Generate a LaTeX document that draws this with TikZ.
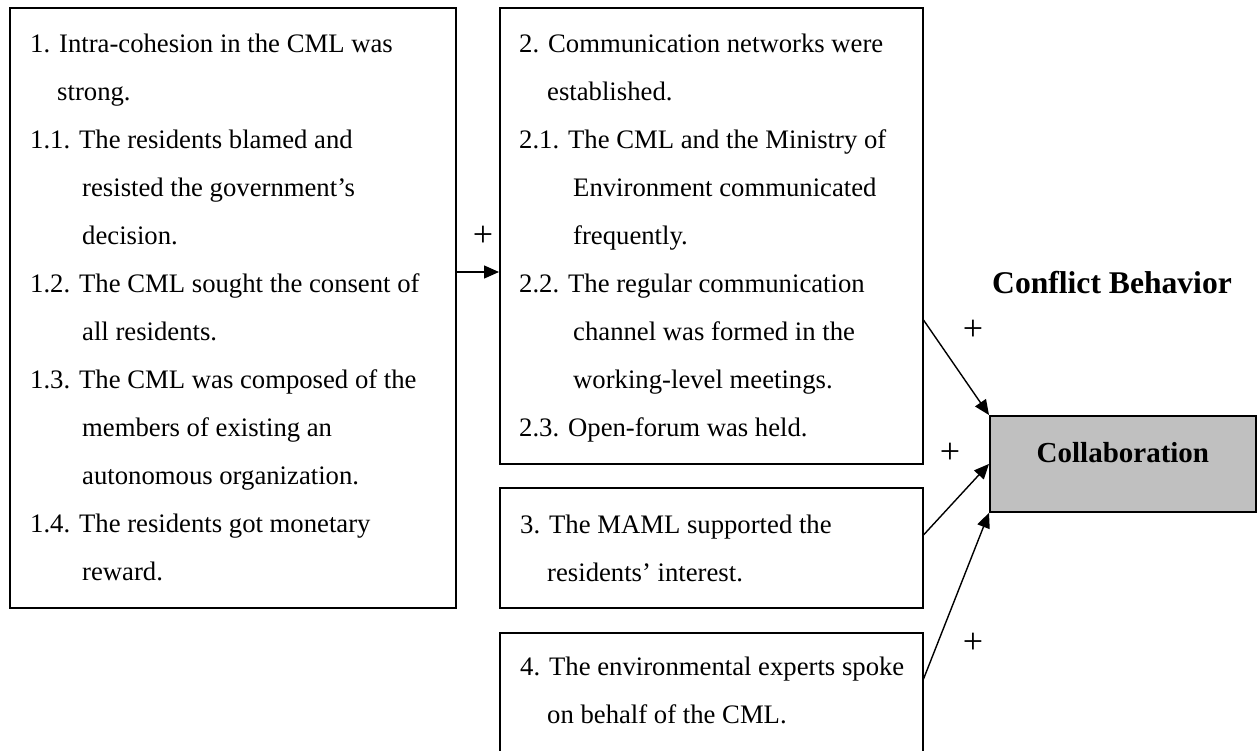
\documentclass[tikz,border=0pt]{standalone}
\usepackage{fontspec}
\setmainfont{Liberation Serif}
\usetikzlibrary{arrows.meta,calc}
\definecolor{collabgray}{HTML}{C0C0C0}
\begin{document}
\begin{tikzpicture}[x=1pt,y=-1pt,
  box/.style={draw, line width=1.5pt, rectangle, inner sep=0pt, anchor=north west},
  body/.style={font=\fontsize{26.7}{48}\selectfont, align=left, inner sep=0pt, anchor=north west},
  sign/.style={font=\fontsize{36}{40}\selectfont, inner sep=0pt},
  head/.style={font=\bfseries\fontsize{31.6}{36}\selectfont, inner sep=0pt, anchor=base},
  link/.style={line width=1.4pt, -{Triangle[length=15pt,width=13pt]}},
]
\clip (0,0) rectangle (1258,750);

% factor boxes
\node[box, minimum width=446pt, minimum height=600pt] (b1) at (9,7) {};
\node[box, minimum width=423pt, minimum height=456pt] (b2) at (499,7) {};
\node[box, minimum width=423pt, minimum height=120pt] (b3) at (499,487) {};
\node[box, minimum width=423pt, minimum height=170pt] (b4) at (499,632) {};

% outcome box
\node[box, fill=collabgray, line width=1.8pt, minimum width=266pt, minimum height=96pt] (col) at (989,415) {};
\node[head, font=\bfseries\fontsize{29}{34}\selectfont] (coltext) at ($(col.center)+(0,-1)$) {Collaboration};
\node[head] (cb) at (1112,293) {Conflict Behavior};

% box texts
\node[body] (t1) at ($(b1.north west)+(21,15)$) {\rule{0pt}{30pt}1. Intra-cohesion in the CML was\\
\hspace*{27pt}strong.\\
1.1. The residents blamed and\\
\hspace*{52pt}resisted the government’s\\
\hspace*{52pt}decision.\\
1.2. The CML sought the consent of\\
\hspace*{52pt}all residents.\\
1.3. The CML was composed of the\\
\hspace*{52pt}members of existing an\\
\hspace*{52pt}autonomous organization.\\
1.4. The residents got monetary\\
\hspace*{52pt}reward.};

\node[body] (t2) at ($(b2.north west)+(20,15)$) {\rule{0pt}{30pt}2. Communication networks were\\
\hspace*{28pt}established.\\
2.1. The CML and the Ministry of\\
\hspace*{54pt}Environment communicated\\
\hspace*{54pt}frequently.\\
2.2. The regular communication\\
\hspace*{54pt}channel was formed in the\\
\hspace*{54pt}working-level meetings.\\
2.3. Open-forum was held.};

\node[body] (t3) at ($(b3.north west)+(21,16)$) {\rule{0pt}{30pt}3. The MAML supported the\\
\hspace*{27pt}residents’ interest.};

\node[body] (t4) at ($(b4.north west)+(21,13)$) {\rule{0pt}{30pt}4. The environmental experts spoke\\
\hspace*{27pt}on behalf of the CML.};

% connectors
\draw[link] ($(b1.north east)+(0,265)$) -- ($(b2.north west)+(0,265)$);
\draw[link] ($(b2.north east)+(0,313)$) -- (col.north west);
\draw[link] ($(b3.north east)+(0,48)$) -- (col.west);
\draw[link] ($(b4.north east)+(0,47)$) -- (col.south west);

% signs
\node[sign] (p1) at (483,236) {+};
\node[sign] (p2) at (973,330) {+};
\node[sign] (p3) at (950,453) {+};
\node[sign] (p4) at (973,643) {+};
\end{tikzpicture}
\end{document}
